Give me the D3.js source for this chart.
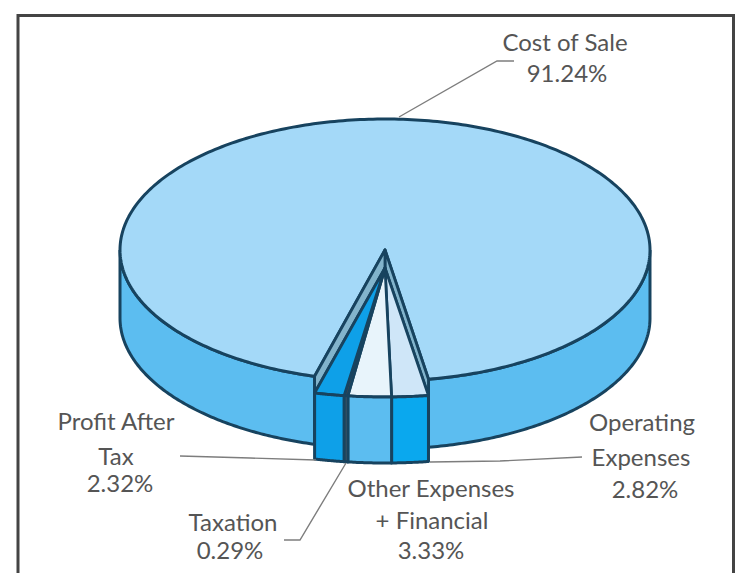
<!DOCTYPE html>
<html>
<head>
<meta charset="utf-8">
<script src="https://cdn.jsdelivr.net/npm/d3@7"></script>
<style>
html, body { margin: 0; padding: 0; background: #fff; }
svg { display: block; }
text { font-family: Lato, "Open Sans", sans-serif; font-size: 24px; fill: #555; text-anchor: middle; }
</style>
</head>
<body>
<svg id="chart" width="735" height="573"></svg>
<script>
// Expense shares, in clockwise order from the large slice.
const categories = ["Cost of Sale", "Operating Expenses", "Other Expenses + Financial", "Taxation", "Profit After Tax"];
const shares = [91.24, 2.82, 3.33, 0.29, 2.32];

// Face colours per slice.
const topColours = ["#a4d9f8", "#cfe6f8", "#e8f4fb", "#3c4650", "#0ea0e8"];
const wallColours = ["#5cbdf0", "#0aa8ee", "#5cbdf0", "#5f6468", "#0ea0e8"];
const edge = "#17435f";
const cutFace = "#82b4cc";

const svg = d3.select("#chart");

// Disc geometry on screen.
const cx = 385, cy = 250, rx = 265, ry = 131, depth = 68;
// The narrow slices have their own, flatter front rim and a lower tip.
const wedgeTipY = 268, wedgeRimCy = 328, wedgeRx = 210, wedgeRy = 69, wedgeDepth = 66;

// The narrow slices sit around the front of the disc, just right of 180 degrees.
const frontEdge = (180 - 11.95) * Math.PI / 180;
const total = d3.sum(shares);
const start = frontEdge - shares[0] / total * 2 * Math.PI;
const arcs = d3.pie().sort(null).startAngle(start).endAngle(start + 2 * Math.PI)(shares);

const discX = a => cx + rx * Math.sin(a);
const discY = (a, dz = 0) => cy - ry * Math.cos(a) + dz;
const wedgeX = a => cx + wedgeRx * Math.sin(a);
const wedgeY = (a, dz = 0) => wedgeRimCy - wedgeRy * Math.cos(a) + dz;
const sample = (a0, a1, n = 120) => d3.range(n + 1).map(i => a0 + (a1 - a0) * i / n);
const line = d3.line();

// Angles on the large disc's rim directly above the outer wedge edges.
const rightEdge = arcs[1].startAngle, leftEdge = arcs[4].endAngle;
const mainEnd = Math.PI - Math.asin(wedgeRx * Math.sin(rightEdge) / rx);
const leftRim = Math.PI + Math.asin(-wedgeRx * Math.sin(leftEdge) / rx);

// Outer wall of the large slice: right part and left part.
function wallPath(a0, a1) {
  const upper = sample(a0, a1).map(a => [discX(a), discY(a)]);
  const lower = sample(a1, a0).map(a => [discX(a), discY(a, depth)]);
  return line(upper.concat(lower)) + "Z";
}
svg.append("path").attr("d", wallPath(Math.PI / 2, mainEnd))
  .attr("fill", wallColours[0]).attr("stroke", edge).attr("stroke-width", 3);
svg.append("path").attr("d", wallPath(leftRim, 1.5 * Math.PI))
  .attr("fill", wallColours[0]).attr("stroke", edge).attr("stroke-width", 3);

// Top face of the large slice.
const rim = sample(leftRim, mainEnd + 2 * Math.PI, 360).map(a => [discX(a), discY(a)]);
svg.append("path").attr("d", line([[cx, cy]].concat(rim)) + "Z")
  .attr("fill", topColours[0]).attr("stroke", edge).attr("stroke-width", 3)
  .attr("stroke-linejoin", "round");

// Cut faces between the large slice and the narrow ones.
[[mainEnd, rightEdge], [leftRim, leftEdge]].forEach(([d, w]) => {
  svg.append("path")
    .attr("d", line([[cx, cy], [discX(d), discY(d)], [wedgeX(w), wedgeY(w)], [cx, wedgeTipY]]) + "Z")
    .attr("fill", cutFace).attr("stroke", edge).attr("stroke-width", 2.8)
    .attr("stroke-linejoin", "round");
});

// Narrow slices: top faces, then walls.
arcs.slice(1).forEach(d => {
  const i = d.index;
  const arcPts = sample(d.startAngle, d.endAngle, 24);
  svg.append("path")
    .attr("d", line([[cx, wedgeTipY]].concat(arcPts.map(a => [wedgeX(a), wedgeY(a)]))) + "Z")
    .attr("fill", topColours[i]).attr("stroke", edge).attr("stroke-width", 2.8)
    .attr("stroke-linejoin", "round");
  const up = arcPts.map(a => [wedgeX(a), wedgeY(a)]);
  const down = arcPts.slice().reverse().map(a => [wedgeX(a), wedgeY(a, wedgeDepth)]);
  svg.append("path")
    .attr("d", line(up.concat(down)) + "Z")
    .attr("fill", wallColours[i]).attr("stroke", edge).attr("stroke-width", 3)
    .attr("stroke-linejoin", "round");
});

// Leader lines from the labels to the slices.
const leaders = [
  [[514, 61], [497, 61], [399, 117]],
  [[180, 456], [250, 458], [316, 460]],
  [[284, 540], [300, 540], [346, 463]],
  [[582, 457], [500, 461], [430, 462]]
];
svg.append("g").selectAll("path").data(leaders).join("path")
  .attr("d", d => line(d)).attr("fill", "none")
  .attr("stroke", "#7d7d7d").attr("stroke-width", 1.4);

// Frame, open along the bottom edge.
svg.append("path").attr("d", "M18,573V15.5H733.5V573")
  .attr("fill", "none").attr("stroke", "#444").attr("stroke-width", 3);

// Labels.
const pct = shares.map(v => v.toFixed(2) + "%");
const labelRows = [
  { lines: ["Cost of Sale", pct[0]], x: [565, 567], y: [51, 82] },
  { lines: ["Profit After", "Tax", pct[4]], x: [116, 116, 120], y: [430, 465, 492] },
  { lines: ["Taxation", pct[3]], x: [233, 230], y: [531, 559] },
  { lines: ["Other Expenses", "+ Financial", pct[2]], x: [431, 432, 431], y: [497, 529, 559] },
  { lines: ["Operating", "Expenses", pct[1]], x: [642, 641, 645], y: [431, 466, 498] }
];
labelRows.forEach(r => r.lines.forEach((t, i) => {
  svg.append("text").attr("x", r.x[i]).attr("y", r.y[i]).text(t);
}));
</script>
</body>
</html>
